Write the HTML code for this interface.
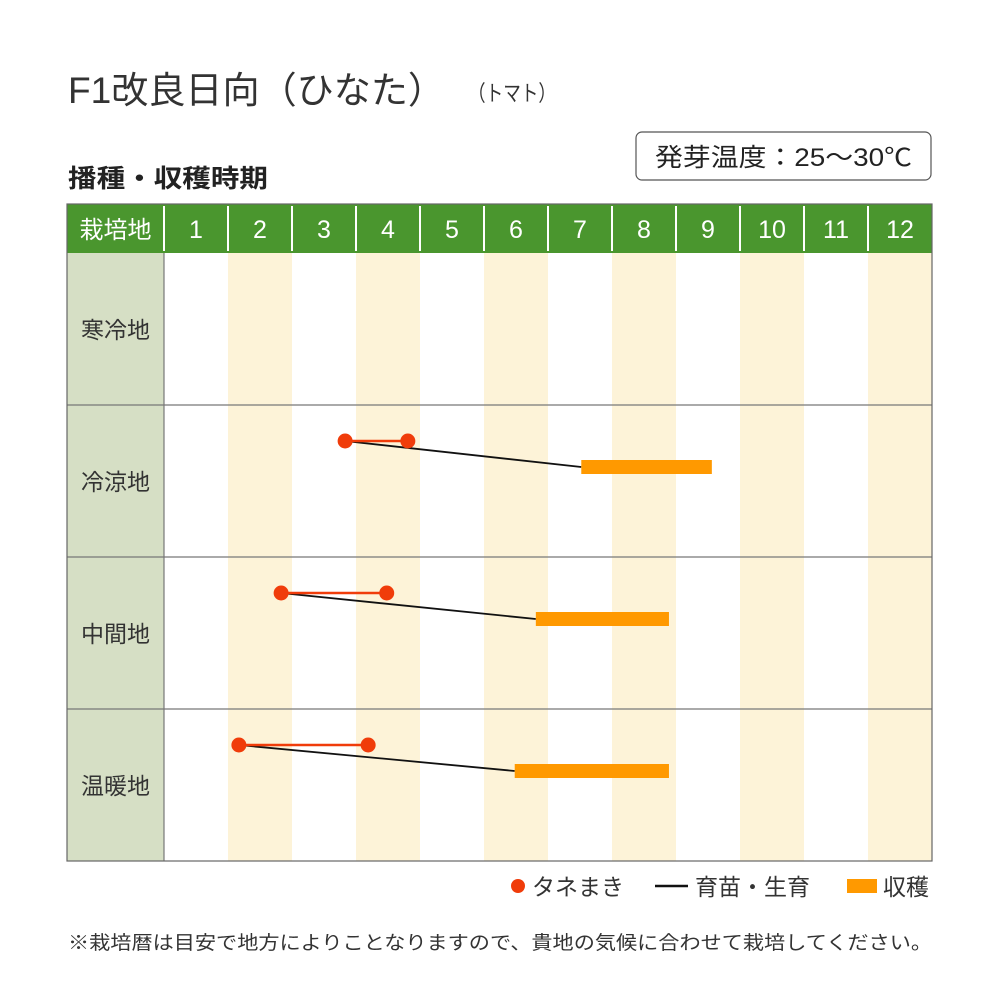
<!DOCTYPE html>
<html><head><meta charset="utf-8"><style>
body{margin:0;background:#fff;font-family:"Liberation Sans","Noto Sans CJK JP",sans-serif;}
svg text{font-family:"Liberation Sans","Noto Sans CJK JP",sans-serif;}
</style></head><body>
<svg id="c" width="1000" height="1000" xmlns="http://www.w3.org/2000/svg">
<text x="68" y="103" font-size="37" fill="#333" textLength="377" lengthAdjust="spacingAndGlyphs">F1改良日向（ひなた）</text>
<text x="468" y="101" font-size="22" fill="#333" textLength="88" lengthAdjust="spacingAndGlyphs">（トマト）</text>
<text x="68" y="187" font-size="25" fill="#222" font-weight="bold" textLength="200" lengthAdjust="spacingAndGlyphs">播種・収穫時期</text>
<rect x="636" y="132" width="295" height="48" rx="6" fill="#fff" stroke="#555" stroke-width="1.2"/>
<text x="655" y="166" font-size="25" fill="#222" textLength="257" lengthAdjust="spacingAndGlyphs">発芽温度：25～30℃</text>
<g id="grid"></g>
<g id="marks"></g>
<g>
<circle cx="518" cy="886" r="7" fill="#f03c0a"/>
<text x="532" y="895" font-size="23" fill="#333">タネまき</text>
<line x1="655" y1="886" x2="688" y2="886" stroke="#111" stroke-width="2.5"/>
<text x="695" y="895" font-size="23" fill="#333">育苗・生育</text>
<rect x="847" y="879" width="30" height="14" fill="#ff9900"/>
<text x="883" y="895" font-size="23" fill="#333">収穫</text>
</g>
<text x="68" y="949" font-size="19" fill="#333" textLength="864" lengthAdjust="spacingAndGlyphs">※栽培暦は目安で地方によりことなりますので、貴地の気候に合わせて栽培してください。</text>
</svg>
<script>
const months=['1','2','3','4','5','6','7','8','9','10','11','12'];
const regions=['寒冷地','冷涼地','中間地','温暖地'];
const sowStart=[null,2.83,1.83,1.17];
const sowEnd=[null,3.81,3.48,3.19];
const harvestStart=[null,6.52,5.81,5.48];
const harvestEnd=[null,8.56,7.89,7.89];
const NS='http://www.w3.org/2000/svg';
const X0=164,MW=64,HY=204,HH=49,RY=253,RH=152,LX=67;
const xs=v=>X0+v*MW;
function mk(t,a,p){const e=document.createElementNS(NS,t);for(const k in a)e.setAttribute(k,a[k]);p.appendChild(e);return e;}
const g=document.getElementById('grid'),m=document.getElementById('marks');
const bottom=RY+RH*regions.length;
months.forEach((mo,i)=>{if(i%2==1){const r=mk('rect',{x:xs(i),y:RY,width:MW,height:bottom-RY,fill:'#fdf3d8'},g);

}});
const hb=mk('rect',{x:LX,y:HY,width:932-LX,height:HH,fill:'#4a962e'},g);


const lc=mk('rect',{x:LX,y:RY,width:X0-LX,height:bottom-RY,fill:'#d6dfc5'},g);


const ht=mk('text',{x:(LX+X0)/2,y:HY+34,'font-size':24,fill:'#fff','text-anchor':'middle'},g);ht.textContent='栽培地';


months.forEach((mo,i)=>{const t=mk('text',{x:xs(i)+MW/2,y:HY+34,'font-size':25,fill:'#fff','text-anchor':'middle'},g);t.textContent=mo;


mk('line',{x1:xs(i),y1:HY+2,x2:xs(i),y2:HY+HH-2,stroke:'#fff','stroke-width':2},g);});
regions.forEach((r,i)=>{const y=RY+i*RH;
if(i>0)mk('line',{x1:LX,y1:y,x2:932,y2:y,stroke:'#777','stroke-width':1.2},g);
const t=mk('text',{x:(LX+X0)/2,y:y+RH/2+9,'font-size':23,fill:'#333','text-anchor':'middle'},g);t.textContent=r;

});
mk('line',{x1:X0,y1:RY,x2:X0,y2:bottom,stroke:'#777','stroke-width':1.2},g);
mk('rect',{x:LX,y:HY,width:932-LX,height:bottom-HY,fill:'none',stroke:'#666','stroke-width':1.2},g);
regions.forEach((r,i)=>{if(sowStart[i]==null)return;const y=RY+i*RH;const dy=y+36,by=y+62;
const gl=mk('line',{x1:xs(sowStart[i]),y1:dy,x2:xs(harvestStart[i]),y2:by,stroke:'#111','stroke-width':1.8},m);


const sl=mk('line',{x1:xs(sowStart[i]),y1:dy,x2:xs(sowEnd[i]),y2:dy,stroke:'#f03c0a','stroke-width':2.5},m);


[sowStart[i],sowEnd[i]].forEach(v=>{const c=mk('circle',{cx:xs(v),cy:dy,r:7.5,fill:'#f03c0a'},m);

});
const b=mk('rect',{x:xs(harvestStart[i]),y:by-7,width:xs(harvestEnd[i])-xs(harvestStart[i]),height:14,fill:'#ff9900'},m);

});
</script>
</body></html>
